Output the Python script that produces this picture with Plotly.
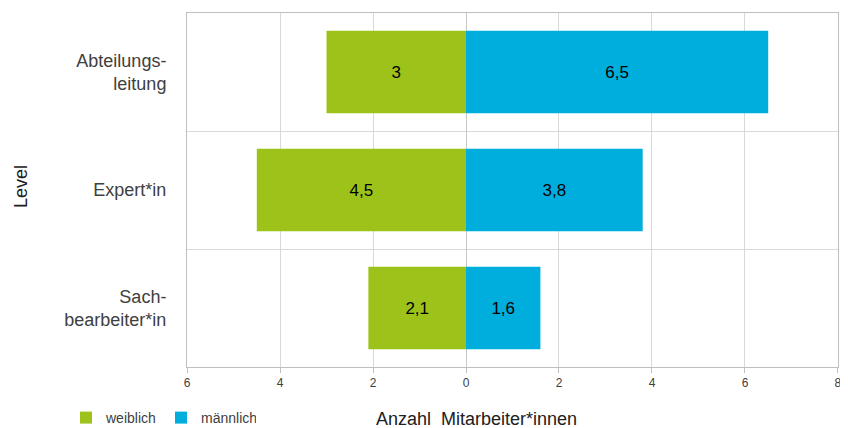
import plotly.graph_objects as go

categories = ["Abteilungs-<br>leitung", "Expert*in", "Sach-<br>bearbeiter*in"]
weiblich = [3, 4.5, 2.1]
maennlich = [6.5, 3.8, 1.6]
tick_vals = [-6, -4, -2, 0, 2, 4, 6, 8]
tick_text = ["6", "4", "2", "0", "2", "4", "6", "8"]

def fmt(v):
    return ("%g" % v).replace(".", ",")

FONT = "Liberation Sans, Arial, sans-serif"
GREEN = "#9DC31B"
BLUE = "#00AEDD"
GRID = "#d9d9d9"

W, H = 848, 428
OFF = 8  # page body margin
# desired plot area in screenshot pixels: x 187..838, y 13..367
L, R, T, B = 187, 838, 13, 367
def px(x):
    return (x - L) / (R - L)
def py(y):
    return (B - y) / (B - T)

fig = go.Figure()
fig.add_trace(go.Bar(
    y=categories, x=[-v for v in weiblich], orientation="h", name="weiblich",
    marker=dict(color=GREEN, line=dict(width=0)),
    text=[fmt(v) for v in weiblich], textposition="inside", insidetextanchor="middle",
    textfont=dict(size=17, color="black", family=FONT), hoverinfo="skip",
))
fig.add_trace(go.Bar(
    y=categories, x=maennlich, orientation="h", name="männlich",
    marker=dict(color=BLUE, line=dict(width=0)),
    text=[fmt(v) for v in maennlich], textposition="inside", insidetextanchor="middle",
    textfont=dict(size=17, color="black", family=FONT), hoverinfo="skip",
))

fig.update_layout(
    width=W, height=H,
    margin=dict(l=L - OFF, r=W - (R - OFF), t=T - OFF, b=H - (B - OFF)),
    barmode="relative", bargap=0.3,
    paper_bgcolor="white", plot_bgcolor="white",
    font=dict(family=FONT, color="#404040"),
    legend=dict(orientation="h", xref="container", yref="container",
                x=58/W, y=1-(418 - OFF)/H, xanchor="left", yanchor="middle",
                font=dict(size=14, color="#404040"), traceorder="normal",
                itemwidth=30, entrywidth=50, bgcolor="rgba(0,0,0,0)"),
    xaxis=dict(range=[-6.001, 8.001], tickvals=tick_vals, ticktext=tick_text,
               automargin=False,
               showgrid=True, gridcolor=GRID, gridwidth=1,
               zeroline=True, zerolinecolor="#c8c8c8", zerolinewidth=1,
               showline=True, linecolor="#bfbfbf", mirror=True,
               ticks="outside", ticklen=5, tickcolor="#bfbfbf",
               tickfont=dict(size=12, color="#404040")),
    yaxis=dict(categoryorder="array", categoryarray=categories[::-1],
               automargin=False,
               tickson="boundaries", showgrid=True, gridcolor=GRID, gridwidth=1,
               showline=True, linecolor="#bfbfbf", mirror=True, ticks="",
               ticklabelstandoff=16,
               tickfont=dict(size=18, color="#404040")),
    annotations=[
        dict(text="Anzahl  Mitarbeiter*innen", xref="paper", yref="paper",
             x=px(476), y=py(419), xanchor="center", yanchor="middle",
             showarrow=False, font=dict(size=18, color="#202020")),
        dict(text="Level", xref="paper", yref="paper",
             x=px(21), y=py(187), xanchor="center", yanchor="middle",
             textangle=-90, showarrow=False, font=dict(size=18, color="#202020")),
    ],
)

fig.write_html("out.html")
